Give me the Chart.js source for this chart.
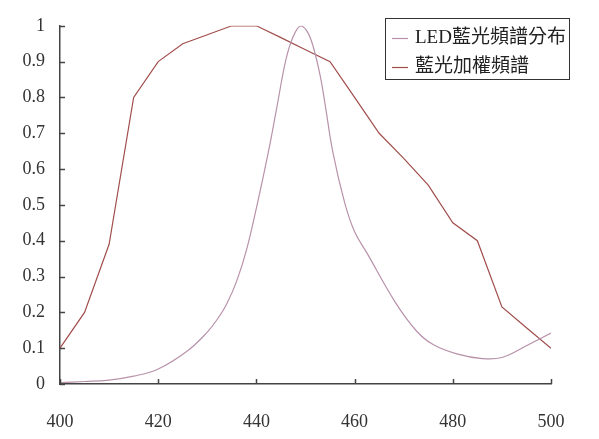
<!DOCTYPE html>
<html>
<head>
<meta charset="utf-8">
<script src="https://cdn.jsdelivr.net/npm/chart.js@4.4.1/dist/chart.umd.min.js"></script>
<style>
  html, body { margin: 0; padding: 0; background: #fff; }
  #wrap { width: 599px; height: 439px; }
</style>
</head>
<body>
<div id="wrap"><canvas id="graphCanvas"></canvas></div>
<script>
// LED blue light spectrum (smooth curve)
var ledNm  = [400, 405, 410, 415, 420, 426, 430, 432, 434, 436, 438, 440.3, 442.4, 444.2, 446, 447.5, 449, 450.3, 451.5, 453, 454, 455.6, 458, 460, 462.5, 468.2, 472.6, 476, 480.8, 486, 490, 495, 500];
var ledVal = [0.004, 0.007, 0.011, 0.022, 0.042, 0.093, 0.145, 0.18, 0.225, 0.288, 0.375, 0.51, 0.645, 0.775, 0.905, 0.97, 1.0, 0.985, 0.945, 0.86, 0.78, 0.645, 0.505, 0.425, 0.366, 0.23, 0.148, 0.11, 0.084, 0.071, 0.074, 0.107, 0.142];

// blue light weighted spectrum (5 nm steps)
var wNm  = [400, 405, 410, 415, 420, 425, 430, 435, 440, 445, 450, 455, 460, 465, 470, 475, 480, 485, 490, 495, 500];
var wVal = [0.1, 0.2, 0.39, 0.8, 0.9, 0.95, 0.975, 1.0, 1.0, 0.967, 0.933, 0.9, 0.8, 0.7, 0.63, 0.555, 0.45, 0.4, 0.215, 0.157, 0.1];

var seriesNames = ['LED藍光頻譜分布', '藍光加權頻譜'];
var seriesColors = ['#b892aa', '#a04e4c'];

var xTicks = [400, 420, 440, 460, 480, 500];
var yTicks = [0, 0.1, 0.2, 0.3, 0.4, 0.5, 0.6, 0.7, 0.8, 0.9, 1];

var axisColor = '#444';
var tickFont = { family: '"Liberation Serif", "DejaVu Serif", serif', size: 18 };

function toPoints(xs, ys) {
    var pts = [];
    for (var i = 0; i < xs.length; i++) {
        pts.push({ x: xs[i], y: ys[i] });
    }
    return pts;
}

// small ticks pointing into the plot
var innerTicks = {
    id: 'innerTicks',
    afterDraw: function (chart) {
        var ctx = chart.ctx;
        var xs = chart.scales.x, ys = chart.scales.y;
        var area = chart.chartArea;
        ctx.save();
        ctx.strokeStyle = axisColor;
        ctx.lineWidth = 1.5;
        ctx.beginPath();
        xTicks.forEach(function (v) {
            var px = Math.round(xs.getPixelForValue(v)) + 0.5;
            ctx.moveTo(px, area.bottom);
            ctx.lineTo(px, area.bottom - 5);
        });
        yTicks.forEach(function (v) {
            var py = Math.round(ys.getPixelForValue(v)) + 0.5;
            ctx.moveTo(area.left, py);
            ctx.lineTo(area.left + 5, py);
        });
        ctx.stroke();
        ctx.restore();
    }
};

// boxed legend in the upper right
var boxLegend = {
    id: 'boxLegend',
    afterDraw: function (chart) {
        var ctx = chart.ctx;
        var left = 385.5, top = 18.5, w = 184, h = 61;
        ctx.save();
        ctx.fillStyle = '#fff';
        ctx.fillRect(left, top, w, h);
        ctx.strokeStyle = '#333';
        ctx.lineWidth = 1;
        ctx.strokeRect(left, top, w, h);
        ctx.font = '19px "Liberation Serif", "Noto Sans CJK TC", serif';
        ctx.textBaseline = 'middle';
        chart.data.datasets.forEach(function (ds, i) {
            var cy = 38 + i * 29;
            ctx.strokeStyle = ds.borderColor;
            ctx.lineWidth = 1.2;
            ctx.beginPath();
            ctx.moveTo(392, cy + 0.5);
            ctx.lineTo(408, cy + 0.5);
            ctx.stroke();
            ctx.fillStyle = '#222';
            ctx.fillText(ds.label, 415, cy);
        });
        ctx.restore();
    }
};

var chartdata = {
    datasets: [
        {
            label: seriesNames[0],
            data: toPoints(ledNm, ledVal),
            borderColor: seriesColors[0],
            borderWidth: 1.2,
            pointRadius: 0,
            fill: false,
            tension: 0.4
        },
        {
            label: seriesNames[1],
            data: toPoints(wNm, wVal),
            borderColor: seriesColors[1],
            borderWidth: 1.2,
            pointRadius: 0,
            fill: false,
            tension: 0
        }
    ]
};

var graphTarget = document.getElementById('graphCanvas');

var lineGraph = new Chart(graphTarget, {
    type: 'line',
    data: chartdata,
    options: {
        responsive: true,
        maintainAspectRatio: false,
        animation: false,
        layout: { padding: { top: 18, right: 48, left: 0, bottom: 0 } },
        plugins: {
            legend: { display: false },
            tooltip: { enabled: false }
        },
        scales: {
            x: {
                type: 'linear',
                min: 400,
                max: 500,
                afterFit: function (scale) { scale.height = 55; },
                afterBuildTicks: function (scale) {
                    scale.ticks = xTicks.map(function (v) { return { value: v }; });
                },
                ticks: { font: tickFont, color: '#333', padding: 27, maxRotation: 0 },
                grid: { display: true, drawOnChartArea: false, drawTicks: false },
                border: { color: axisColor, width: 1.5 }
            },
            y: {
                min: 0,
                max: 1,
                afterFit: function (scale) { scale.width = 60; },
                afterBuildTicks: function (scale) {
                    scale.ticks = yTicks.map(function (v) { return { value: v }; });
                },
                ticks: {
                    font: tickFont,
                    color: '#333',
                    padding: 15,
                    callback: function (v) { return String(Math.round(v * 10) / 10); }
                },
                grid: { display: true, drawOnChartArea: false, drawTicks: false },
                border: { color: axisColor, width: 1.5 }
            }
        }
    },
    plugins: [innerTicks, boxLegend]
});
</script>
</body>
</html>
